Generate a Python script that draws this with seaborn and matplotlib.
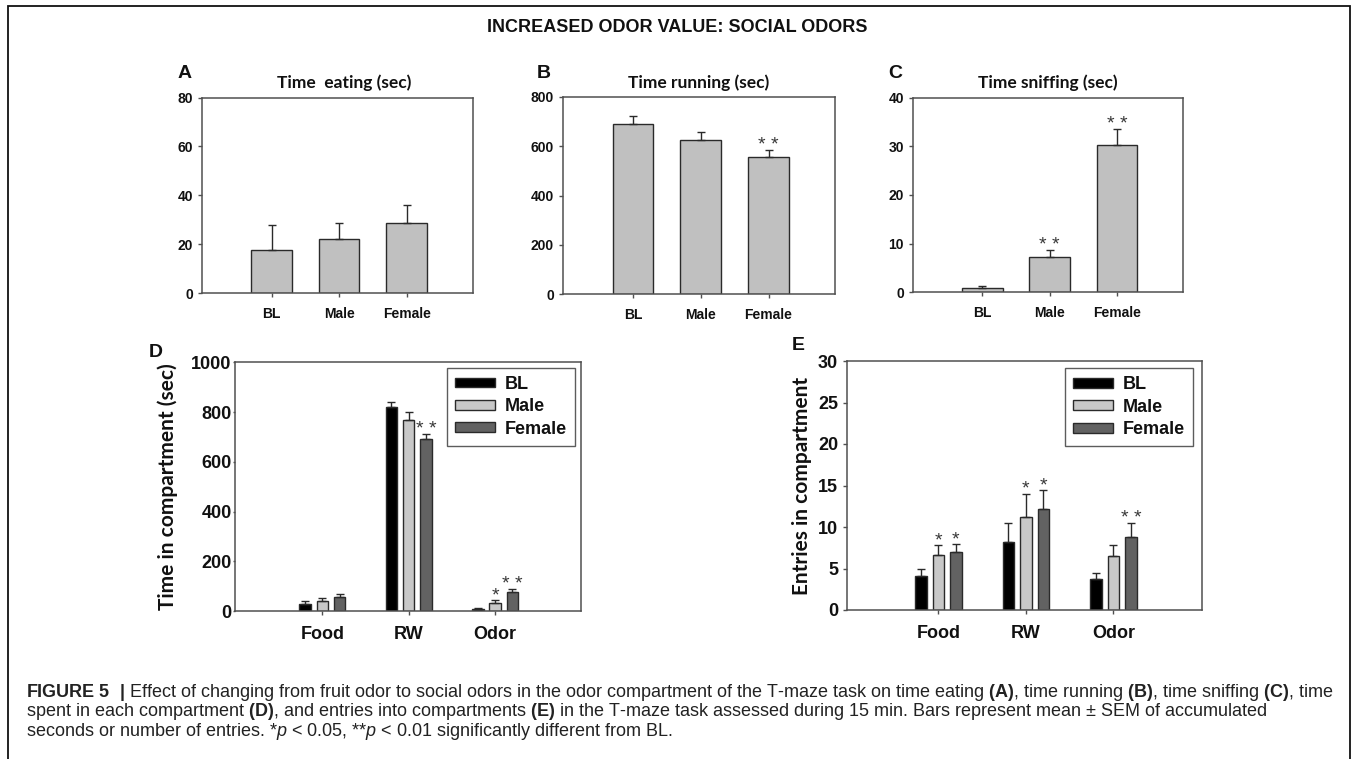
import numpy as np
import pandas as pd
import matplotlib
matplotlib.use("Agg")
import matplotlib.pyplot as plt
from matplotlib.patches import Patch, Rectangle
import seaborn as sns

sns.set_theme(style="white")
plt.rcParams['font.family'] = ['Liberation Sans', 'DejaVu Sans']
plt.rcParams['mathtext.fontset'] = 'custom'
plt.rcParams['mathtext.rm'] = 'Liberation Sans'
plt.rcParams['mathtext.bf'] = 'Liberation Sans:bold'
plt.rcParams['mathtext.it'] = 'Liberation Sans:italic'

# ---- data ----
groups = ["BL", "Male", "Female"]

eating_mean = [17.8, 22.2, 28.9]
eating_sem = [10.0, 6.7, 7.3]
eating_stars = ["", "", ""]

running_mean = [688, 623, 554]
running_sem = [33, 36, 30]
running_stars = ["", "", "**"]

sniffing_mean = [0.9, 7.3, 30.3]
sniffing_sem = [0.3, 1.4, 3.2]
sniffing_stars = ["", "**", "**"]

compartments = ["Food", "RW", "Odor"]

time_bl = [27, 821, 10]
time_bl_sem = [13, 19, 3]
time_male = [39, 768, 33]
time_male_sem = [13, 33, 11]
time_female = [57, 693, 75]
time_female_sem = [11, 20, 12]
time_stars = [["", "", ""], ["", "", "*"], ["", "**", "**"]]

entries_bl = [4.1, 8.2, 3.7]
entries_bl_sem = [0.85, 2.25, 0.8]
entries_male = [6.6, 11.2, 6.5]
entries_male_sem = [1.2, 2.8, 1.3]
entries_female = [7.0, 12.2, 8.8]
entries_female_sem = [0.9, 2.25, 1.65]
entries_stars = [["", "", ""], ["*", "*", ""], ["*", "*", "**"]]

group_colors = ["#000000", "#c8c8c8", "#626262"]
single_color = "#c0c0c0"
edge_color = "#2a2a2a"
spine_color = "#505050"
star_color = "#383838"

W, H = 1354, 759
fig = plt.figure(figsize=(W / 100, H / 100), dpi=100)


def axes_px(left, top, right, bottom):
    return fig.add_axes([left / W, 1 - bottom / H, (right - left) / W, (bottom - top) / H])


def style_axes(ax, size, ylen, ypad, xpad):
    for s in ax.spines.values():
        s.set_visible(True)
        s.set_color(spine_color)
        s.set_linewidth(1.1)
    ax.tick_params(axis="both", direction="out", width=1, color=spine_color,
                   bottom=True, left=True, top=False, right=False,
                   labelsize=size, labelcolor="#111111")
    ax.tick_params(axis="y", length=ylen, pad=ypad)
    ax.tick_params(axis="x", length=3, pad=xpad)
    for lab in ax.get_xticklabels() + ax.get_yticklabels():
        lab.set_fontweight("bold")
    ax.set_xlabel("")
    ax.set_ylabel("")


def upper_errors(ax, bars, sems):
    xs = [b.get_x() + b.get_width() / 2 for b in bars]
    hs = [b.get_height() for b in bars]
    ax.errorbar(xs, hs, yerr=[np.zeros(len(sems)), sems], fmt="none",
                ecolor=edge_color, elinewidth=1, capsize=3, capthick=1, zorder=3)


def add_stars(ax, bars, sems, labels, size=14):
    for b, s, lab in zip(bars, sems, labels):
        if lab:
            ax.annotate(lab.replace("**", "* *"),
                        (b.get_x() + b.get_width() / 2, b.get_height() + s),
                        xytext=(0, 0), textcoords="offset points",
                        ha="center", va="baseline", fontsize=size, color=star_color)


# ---- top row: single-series panels ----
top_panels = [
    ((202, 97.5, 473, 293.3), eating_mean, eating_sem, eating_stars, 80, 20,
     "Time  eating (sec)", 344, "A", 185),
    ((563, 96.7, 835, 294.3), running_mean, running_sem, running_stars, 800, 200,
     "Time running (sec)", 699, "B", 544),
    ((913, 97.7, 1183, 292.3), sniffing_mean, sniffing_sem, sniffing_stars, 40, 10,
     "Time sniffing (sec)", 1048, "C", 895),
]

for box, means, sems, stars, ymax, ystep, title, tx, letter, lx in top_panels:
    ax = axes_px(*box)
    sns.barplot(x=groups, y=means, color=single_color, saturation=1, width=0.6,
                edgecolor=edge_color, linewidth=1, errorbar=None, ax=ax)
    bars = ax.containers[0]
    upper_errors(ax, bars, sems)
    add_stars(ax, bars, sems, stars)
    ax.set_xlim(-1.03, 2.98)
    ax.set_ylim(0, ymax)
    ax.set_yticks(np.arange(0, ymax + 1, ystep))
    style_axes(ax, 10, 3, 3.5, 7)
    fig.text(tx / W, 1 - 82.5 / H, title, family=["Lato", "DejaVu Sans"],
             fontweight="bold", fontsize=12.5, ha="center", va="center", color="#111111")
    fig.text(lx / W, 1 - 74 / H, letter, fontweight="bold", fontsize=14,
             ha="center", va="center", color="#111111")


# ---- bottom row: grouped panels ----
def grouped_panel(box, values, sems, stars, ymax, ystep, xlim, ylabel, ylabel_x,
                  ylen, ypad, legend_anchor):
    ax = axes_px(*box)
    df = pd.DataFrame({
        "Compartment": compartments * len(groups),
        "Group": np.repeat(groups, len(compartments)),
        "Value": np.concatenate(values),
    })
    sns.barplot(data=df, x="Compartment", y="Value", hue="Group", order=compartments,
                hue_order=groups, palette=group_colors, saturation=1, width=0.6, gap=0.34,
                edgecolor=edge_color, linewidth=1, errorbar=None, legend=False, ax=ax)
    for cont, gs, gst in zip(ax.containers, sems, stars):
        upper_errors(ax, cont, gs)
        add_stars(ax, cont, gs, gst)
    ax.set_xlim(*xlim)
    ax.set_ylim(0, ymax)
    ax.set_yticks(np.arange(0, ymax + 1, ystep))
    style_axes(ax, 13, ylen, ypad, 8)
    ax.set_ylabel(ylabel, family=["Lato", "DejaVu Sans"], fontweight="bold",
                  fontsize=15, color="#111111")
    ax.yaxis.set_label_coords(ylabel_x, 0.5)
    handles = [Patch(facecolor=c, edgecolor=edge_color, linewidth=1) for c in group_colors]
    leg = ax.legend(handles, groups, loc="upper right", bbox_to_anchor=legend_anchor,
                    borderaxespad=0, frameon=True, fancybox=False, shadow=False,
                    handlelength=2.2, handleheight=0.45, handletextpad=0.55,
                    labelspacing=0.3, borderpad=0.45,
                    prop={"weight": "bold", "size": 13})
    leg.get_frame().set_edgecolor("#333333")
    leg.get_frame().set_linewidth(1)
    for t in leg.get_texts():
        t.set_color("#111111")
    return ax


grouped_panel((235, 362.3, 580.7, 611),
              [time_bl, time_male, time_female],
              [time_bl_sem, time_male_sem, time_female_sem],
              time_stars, 1000, 200, (-1.01, 2.99),
              "Time in compartment (sec)", -0.165, 1.5, 0.9, (0.984, 0.978))
fig.text(156 / W, 1 - 352.7 / H, "D", fontweight="bold", fontsize=14,
         ha="center", va="center", color="#111111")

grouped_panel((847.3, 361, 1201.7, 610),
              [entries_bl, entries_male, entries_female],
              [entries_bl_sem, entries_male_sem, entries_female_sem],
              entries_stars, 30, 5, (-1.04, 3.01),
              "Entries in compartment", -0.10, 3, 3.6, (0.976, 0.971))
fig.text(798 / W, 1 - 345 / H, "E", fontweight="bold", fontsize=14,
         ha="center", va="center", color="#111111")

# ---- headline, caption and frame ----
fig.text(677 / W, 1 - 28 / H, "INCREASED ODOR VALUE: SOCIAL ODORS", fontweight="bold",
         fontsize=13, ha="center", va="center", color="#111111")

caption = [
    r"$\mathbf{FIGURE\ 5\ \ |}$ Effect of changing from fruit odor to social odors in the odor "
    r"compartment of the T-maze task on time eating $\mathbf{(A)}$, time running $\mathbf{(B)}$, "
    r"time sniffing $\mathbf{(C)}$, time",
    r"spent in each compartment $\mathbf{(D)}$, and entries into compartments $\mathbf{(E)}$ in the "
    r"T-maze task assessed during 15 min. Bars represent mean ± SEM of accumulated",
    r"seconds or number of entries. *$\mathit{p}$ < 0.05, **$\mathit{p}$ < 0.01 significantly "
    r"different from BL.",
]
for i, line in enumerate(caption):
    fig.text(26 / W, 1 - (697 + 19.5 * i) / H, line, fontsize=12.95, ha="left",
             va="baseline", color="#222222")

fig.add_artist(Rectangle((8 / W, -0.05), (1350 - 8) / W, 1.05 - 6 / H,
                         transform=fig.transFigure, fill=False,
                         edgecolor="#111111", linewidth=1.3))

fig.savefig("out.png", dpi=100)
